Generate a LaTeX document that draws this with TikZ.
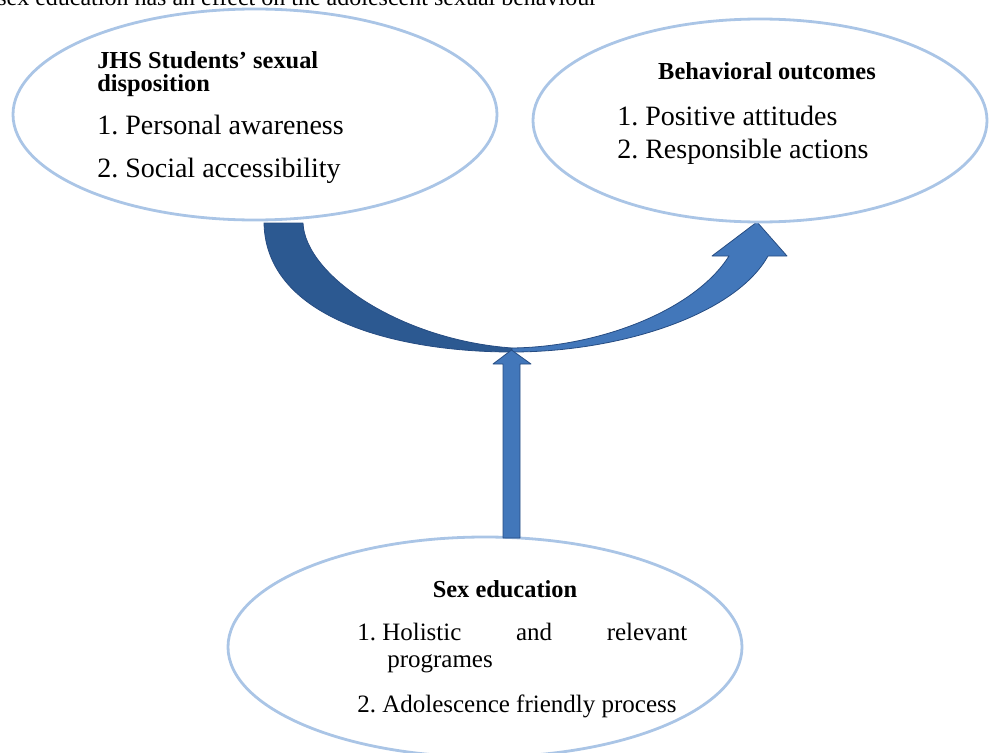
\documentclass[tikz,border=0pt]{standalone}
\usepackage{fontspec}
\setmainfont{Liberation Serif}
\usetikzlibrary{shapes.geometric}
\definecolor{ellline}{RGB}{170,197,230}
\definecolor{darkarr}{RGB}{44,89,145}
\definecolor{lightarr}{RGB}{66,119,186}
\definecolor{arrline}{RGB}{38,76,130}
\begin{document}
\begin{tikzpicture}[x=0.75pt,y=-0.75pt,
  bubble/.style={ellipse, draw=ellline, line width=2.1pt, fill=white, inner sep=0pt},
  titletext/.style={font=\fontsize{18.3}{22}\selectfont\bfseries, inner sep=0pt},
  itemtext/.style={font=\fontsize{21}{25}\selectfont, anchor=base west, inner sep=0pt},
  itemsmall/.style={font=\fontsize{18.75}{22}\selectfont, anchor=base west, inner sep=0pt},
  bandfill/.style={draw=arrline, line width=0.6pt, line join=round},
]
\useasboundingbox (0,0) rectangle (989,753);
\clip (0,0) rectangle (989,753);

% caption line cut off at the top (as in the reference)
\node[anchor=base west, inner sep=0pt, font=\fontsize{18}{22}\selectfont] (cap) at (-3,6)
  {sex education has an effect on the adolescent sexual behaviour};

% curved arrow (left dark part)
\path[bandfill, fill=darkarr]
  (264,223) .. controls (266,320) and (400,352) .. (512,352)
  -- (512,348) .. controls (400,340) and (305,275) .. (303,223) -- cycle;
% curved arrow (right light part with head)
\path[bandfill, fill=lightarr]
  (512,352) .. controls (620,352) and (735,315) .. (768,256)
  -- (787,256) -- (757,222) -- (712,256) -- (729,256)
  .. controls (695,310) and (600,347) .. (512,348) -- cycle;

% ellipses
\node[bubble, minimum width=363pt, minimum height=158.25pt] (L) at (255,114.5) {};
\node[bubble, minimum width=340.5pt, minimum height=152.25pt] (R) at (760,120.5) {};
\node[bubble, minimum width=385.5pt, minimum height=165pt] (S) at (485,647) {};

% vertical arrow
\coordinate (vtip) at (511.5,350);
\coordinate (vbase) at (511.5,538);
\path[bandfill, fill=lightarr]
  (503,538) -- (503,364) -- (493,364) -- (vtip) -- (531,364) -- (520,364) -- (520,538) -- cycle;

% left texts
\node[titletext, anchor=base west] (lt1) at (97,68) {JHS Students’ sexual};
\node[titletext, anchor=base west] (lt2) at (97,91) {disposition};
\node[itemtext] (li1) at (97,134) {1.\ Personal awareness};
\node[itemtext] (li2) at (97,177) {2.\ Social accessibility};

% right texts
\node[titletext, anchor=base] (rt) at (767,79) {Behavioral outcomes};
\node[itemtext] (ri1) at (617,125) {1.\ Positive attitudes};
\node[itemtext] (ri2) at (617,158) {2.\ Responsible actions};

% bottom texts
\node[titletext, anchor=base] (st) at (505,597) {Sex education};
\node[itemsmall] (si1) at (357,640) {\hbox to 247.5pt{1.\ Holistic\hfill and\hfill relevant}};
\node[itemsmall] (si1b) at (387,667) {programes};
\node[itemsmall] (si2) at (357,712) {2.\ Adolescence friendly process};
\end{tikzpicture}
\end{document}
